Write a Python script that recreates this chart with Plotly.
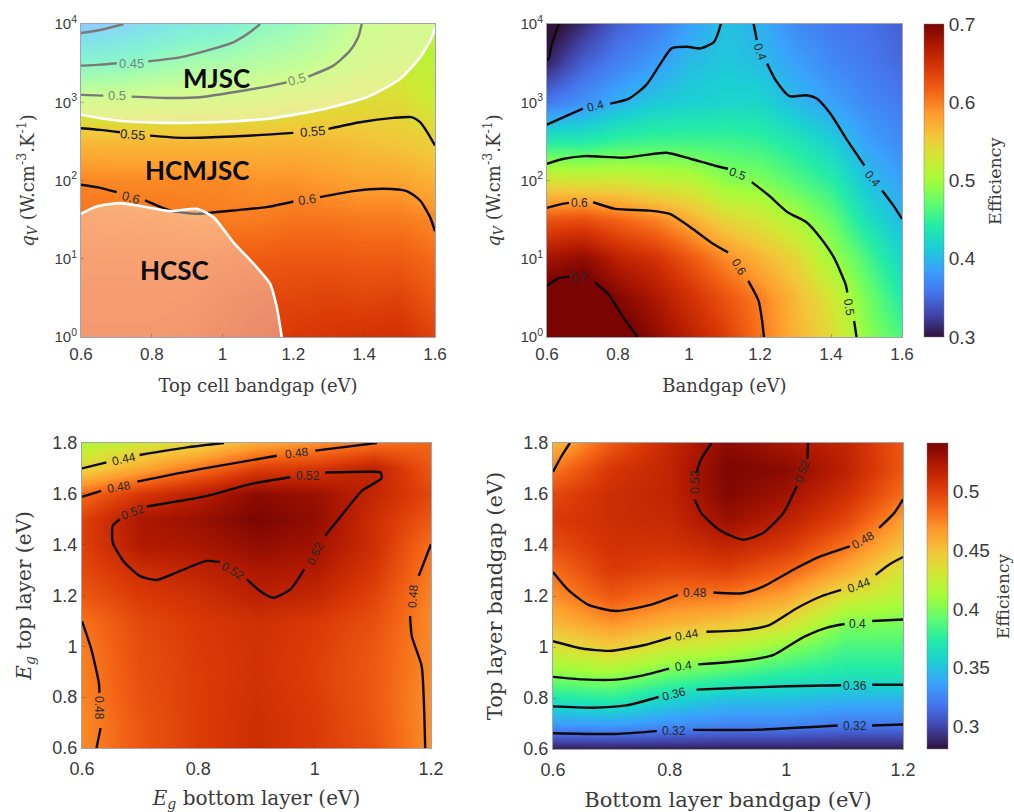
import numpy as np
import plotly.graph_objects as go

# ---------- panel grids (rows are bottom to top unless stated) ----------
a_x = [0.6, 0.7, 0.8, 0.9, 1.0, 1.1, 1.2, 1.3, 1.4, 1.5, 1.6]
top_logq = [4, 3.5, 3, 2.5, 2, 1.5, 1, 0.5, 0]
# columns by bandgap, each running from q=1e4 down to q=1
a_cols = [
    [.385, .445, .510, .565, .597, .608, .615, .620, .622],
    [.395, .450, .512, .565, .595, .607, .615, .620, .622],
    [.410, .460, .515, .565, .595, .606, .615, .620, .622],
    [.425, .470, .518, .565, .595, .604, .615, .620, .625],
    [.430, .475, .520, .565, .595, .602, .618, .627, .632],
    [.450, .483, .525, .565, .590, .602, .620, .632, .638],
    [.460, .490, .530, .567, .590, .606, .622, .634, .642],
    [.480, .500, .535, .565, .585, .606, .622, .636, .645],
    [.500, .515, .540, .560, .580, .603, .620, .634, .648],
    [.510, .520, .540, .555, .580, .603, .620, .636, .650],
    [.510, .515, .525, .548, .570, .595, .610, .622, .635],
]
b_cols = [
    [.290, .310, .360, .440, .535, .625, .680, .715, .725],
    [.315, .345, .375, .440, .530, .630, .690, .720, .735],
    [.345, .365, .395, .450, .530, .615, .665, .695, .715],
    [.360, .382, .410, .455, .520, .600, .650, .675, .690],
    [.385, .402, .415, .455, .515, .575, .625, .650, .665],
    [.405, .410, .420, .455, .490, .545, .595, .625, .640],
    [.395, .403, .420, .450, .485, .530, .570, .600, .605],
    [.370, .385, .400, .435, .465, .505, .545, .565, .570],
    [.360, .370, .385, .415, .445, .475, .500, .530, .540],
    [.355, .360, .370, .385, .405, .430, .460, .480, .490],
    [.345, .350, .360, .370, .385, .400, .420, .440, .460],
]
low_x = [0.6, 0.7, 0.8, 0.9, 1.0, 1.1, 1.2]
low_y = [0.6, 0.7, 0.8, 0.9, 1.0, 1.1, 1.2, 1.3, 1.4, 1.5, 1.6, 1.7, 1.8]
c_rows = [
    [.472, .491, .502, .510, .503, .493, .470],
    [.472, .491, .502, .510, .503, .491, .470],
    [.474, .493, .502, .509, .502, .490, .470],
    [.475, .494, .502, .508, .501, .490, .472],
    [.477, .495, .503, .508, .502, .491, .472],
    [.480, .497, .504, .509, .504, .494, .472],
    [.490, .503, .509, .518, .514, .499, .474],
    [.497, .510, .517, .524, .522, .505, .477],
    [.500, .522, .525, .533, .528, .510, .480],
    [.500, .524, .530, .540, .533, .510, .490],
    [.483, .505, .519, .535, .530, .515, .497],
    [.440, .460, .480, .500, .505, .517, .490],
    [.415, .430, .440, .460, .470, .480, .485],
]
d_cols = [
    [.285, .334, .371, .405, .433, .455, .470, .481, .495, .503, .497, .478, .455],
    [.285, .336, .376, .410, .445, .470, .490, .503, .508, .510, .510, .505, .490],
    [.285, .330, .360, .395, .428, .458, .480, .497, .508, .513, .516, .516, .514],
    [.285, .325, .350, .385, .420, .450, .477, .500, .516, .530, .538, .540, .535],
    [.285, .325, .350, .375, .403, .437, .463, .486, .505, .518, .528, .535, .525],
    [.285, .320, .345, .370, .385, .402, .433, .460, .481, .498, .510, .518, .515],
    [.285, .320, .345, .370, .385, .400, .418, .430, .450, .465, .482, .490, .490],
]

# ---------- panel A contour lines (x, log10 q); None = gap for a label ----------
a40_x = [.6, .654, .72]
a40_y = [3.885, 3.923, 4]
a45_x = [.6, .654, .701, None, .79, .88, .955, 1.03, 1.077, 1.106]
a45_y = [3.468, 3.481, 3.498, None, 3.523, 3.574, 3.66, 3.766, 3.894, 4]
a50_x = [.6, .663, None, .743, .842, .936, 1.03, 1.124, 1.181, None, 1.242, 1.313, 1.36, 1.383, 1.393]
a50_y = [3.094, 3.085, None, 3.072, 3.055, 3.064, 3.128, 3.2, 3.255, None, 3.328, 3.468, 3.66, 3.83, 4]
a55_x = [.6, .654, .71, None, .795, .889, 1.03, 1.2, None, 1.299, 1.388, 1.482, 1.534, 1.558, 1.581, 1.6]
a55_y = [2.668, 2.647, 2.617, None, 2.574, 2.545, 2.562, 2.609, None, 2.66, 2.745, 2.8, 2.809, 2.745, 2.596, 2.447]
a60_x = [.6, .654, .701, None, .781, .851, .927, 1.03, 1.124, 1.2, None, 1.275, 1.369, 1.454, 1.52, 1.558, 1.586, 1.6]
a60_y = [1.945, 1.906, 1.851, None, 1.745, 1.617, 1.574, 1.617, 1.66, 1.732, None, 1.787, 1.864, 1.894, 1.864, 1.745, 1.532, 1.353]
a_lab_text = ["0.45", "0.5", "0.5", "0.55", "0.55", "0.6", "0.6"]
a_lab_x = [.743, .703, 1.209, .746, 1.253, .74, 1.237]
a_lab_y = [3.498, 3.081, 3.285, 2.587, 2.63, 1.787, 1.757]
a_lab_ang = [0, 0, -15, 5, -5, 15, -8]
a_lab_col = ["#6f8a88", "#6f8a70", "#7f9070", "#222222", "#222222", "#333333", "#333333"]

# regions of panel A
mjsc_x = [.6, .7, .842, .974, 1.124, 1.266, 1.407, 1.501, 1.558, 1.591, 1.6]
mjsc_y = [2.84, 2.766, 2.736, 2.745, 2.787, 2.894, 3.064, 3.298, 3.574, 3.83, 3.957]
hcsc_x = [.6, .644, .71, .776, .851, .927, .974, 1.03, 1.096, 1.134, 1.153, 1.167]
hcsc_y = [1.574, 1.668, 1.711, 1.668, 1.609, 1.638, 1.532, 1.213, .894, .681, .383, 0]
region_text = ["MJSC", "HCMJSC", "HCSC"]
region_x = [.983, .928, .865]
region_y = [3.31, 2.13, .86]

# ---------- panel B ----------
b30_x = [.6, .605, .614, .634]
b30_y = [3.538, 3.56, 3.752, 4]
b40a_x = [.6, .658, .701, None, .778, .831, .879, .917, .951, .994, 1.033, 1.071, 1.09]
b40a_y = [2.714, 2.833, 2.919, None, 2.983, 3.047, 3.218, 3.474, 3.688, 3.709, 3.688, 3.774, 4]
b40b_x = [1.182, 1.191, None, 1.22, 1.244, 1.283, 1.331, 1.36, 1.398, 1.446, 1.494, None, 1.544, 1.576, 1.6]
b40b_y = [4, 3.795, None, 3.496, 3.282, 3.077, 3.09, 3.047, 2.855, 2.513, 2.192, None, 1.872, 1.679, 1.509]
b50_x = [.6, .648, .706, .812, .869, .937, 1.004, 1.071, 1.11, None, 1.177, 1.225, 1.278, 1.331, 1.369, 1.408, 1.441, 1.446, None, 1.465, 1.472]
b50_y = [2.214, 2.278, 2.312, 2.291, 2.321, 2.355, 2.278, 2.192, 2.15, None, 1.979, 1.808, 1.594, 1.466, 1.274, 1.017, .675, .568, None, .205, 0]
b60_x = [.6, .634, .662, None, .73, .792, .888, .946, 1.004, 1.062, 1.11, None, 1.167, 1.196, 1.206, 1.211]
b60_y = [1.65, 1.692, 1.714, None, 1.722, 1.637, 1.615, 1.573, 1.402, 1.209, 1.081, None, .718, .462, .205, 0]
b70_x = [.6, .634, .662, None, .735, .773, .812, .855]
b70_y = [.654, .752, .769, None, .697, .547, .269, 0]
b_lab_text = ["0.4", "0.4", "0.4", "0.5", "0.5", "0.6", "0.6", "0.7"]
b_lab_x = [.737, 1.201, 1.518, 1.138, 1.451, .691, 1.14, .691]
b_lab_y = [2.953, 3.645, 2.021, 2.077, .385, 1.714, .889, .748]
b_lab_ang = [-15, 70, 50, 20, 80, 0, 60, 0]

# ---------- panel C ----------
c44_x = [.6, .642, None, .699, .78, .844]
c44_y = [1.7, 1.724, None, 1.753, 1.783, 1.8]
c48a_x = [.6, .633, None, .695, .803, .935, None, 1.001, 1.107]
c48a_y = [1.588, 1.612, None, 1.648, 1.697, 1.75, None, 1.77, 1.8]
c52_x = [.711, .803, .837, .889, .958, None, 1.018, 1.09, 1.113, 1.115, 1.081, 1.055, 1.018, None, .982, .958, .929, .906, .883, None, .837, .814, .768, .728, .699, .671, .653, .653, .665]
c52_y = [1.55, 1.586, 1.605, 1.638, 1.665, None, 1.684, 1.687, 1.684, 1.661, 1.612, 1.54, 1.435, None, 1.303, 1.224, 1.191, 1.218, 1.264, None, 1.332, 1.336, 1.296, 1.261, 1.277, 1.336, 1.408, 1.474, 1.5]
c48b_x = [.6, .616, .629, .63, None, .632, .625]
c48b_y = [1.099, .988, .856, .817, None, .679, .6]
c48c_x = [1.2, 1.179, None, 1.164, 1.167, 1.184, 1.188, 1.19]
c48c_y = [1.402, 1.277, None, 1.119, 1.04, .922, .764, .6]
c_lab_text = ["0.44", "0.48", "0.48", "0.52", "0.52", "0.52", "0.52", "0.48", "0.48"]
c_lab_x = [.672, .664, .97, .688, .989, 1.0, .859, .629, 1.169]
c_lab_y = [1.737, 1.628, 1.759, 1.527, 1.671, 1.365, 1.297, .758, 1.198]
c_lab_ang = [-12, -10, -7, -20, 0, -65, 30, 90, -85]

# ---------- panel D ----------
d52_x = [.872, .854, .846, None, .843, .854, .884, .925, .96, .995, 1.018, None, 1.036, 1.037]
d52_y = [1.8, 1.737, 1.684, None, 1.579, 1.526, 1.461, 1.421, 1.447, 1.526, 1.631, None, 1.737, 1.8]
d48a_x = [.6, .615, .629]
d48a_y = [1.687, 1.75, 1.8]
d48b_x = [.6, .626, .661, .708, .767, .814, None, .875, .925, .96, 1.012, 1.059, 1.109, None, 1.159, 1.185, 1.2]
d48b_y = [1.294, 1.224, 1.165, 1.141, 1.165, 1.204, None, 1.214, 1.211, 1.237, 1.303, 1.356, 1.395, None, 1.467, 1.526, 1.579]
d44_x = [.6, .65, .697, .755, .802, None, .863, .925, .971, 1.018, 1.059, 1.094, None, 1.153, 1.176, 1.2]
d44_y = [1.023, .994, .985, 1.007, 1.038, None, 1.06, 1.066, 1.086, 1.152, 1.198, 1.224, None, 1.283, 1.323, 1.353]
d40_x = [.6, .65, .708, .755, .799, None, .849, .925, .977, 1.03, 1.071, 1.1, None, 1.147, 1.2]
d40_y = [.883, .873, .872, .889, .915, None, .932, .946, .968, 1.04, 1.077, 1.09, None, 1.102, 1.108]
d36_x = [.6, .667, .726, .781, None, .846, .913, 1.001, 1.094, None, 1.147, 1.2]
d36_y = [.767, .762, .771, .804, None, .833, .839, .846, .85, None, .852, .852]
d32_x = [.6, .708, .778, None, .84, .942, 1.088, None, 1.147, 1.2]
d32_y = [.662, .659, .67, None, .675, .675, .692, None, .692, .696]
d_lab_text = ["0.52", "0.52", "0.48", "0.48", "0.44", "0.44", "0.4", "0.4", "0.36", "0.36", "0.32", "0.32"]
d_lab_x = [.843, 1.027, .843, 1.132, .829, 1.125, .823, 1.122, .808, 1.118, .807, 1.118]
d_lab_y = [1.647, 1.691, 1.211, 1.421, 1.047, 1.244, .925, 1.09, .817, .848, .67, .689]
d_lab_ang = [-90, -70, 0, -30, -10, -20, -8, 0, -15, 0, 0, 0]

W, H = 1014, 812
SANS = "Liberation Sans, Arial, sans-serif"
SERIF = "DejaVu Serif, serif"
TXT = "#3a3a3a"


def log_list(v):
    return [None if k is None else 10 ** k for k in v]


def pad(xs, ys, z):
    """repeat the outer cells so the picture's edge falls on the outermost values"""
    xs = [2 * xs[0] - xs[1]] + list(xs) + [2 * xs[-1] - xs[-2]]
    ys = [2 * ys[0] - ys[1]] + list(ys) + [2 * ys[-1] - ys[-2]]
    return xs, ys, np.pad(np.array(z), 1, mode="edge")


fig = go.Figure()


def heat(xs, ys, z, ax, zmin, zmax, cbar=None, log=False):
    px, py, pz = pad(xs, ys, z)
    if log:
        py = log_list(py)
    fig.add_trace(go.Heatmap(x=px, y=py, z=pz, colorscale="Turbo", zmin=zmin, zmax=zmax,
                             zsmooth="best", xaxis="x" + ax, yaxis="y" + ax,
                             showscale=cbar is not None, colorbar=cbar, hoverinfo="skip"))


def lines(ax, pairs, log=False, width=2.4):
    for xs, ys in pairs:
        fig.add_trace(go.Scatter(x=xs, y=log_list(ys) if log else ys, mode="lines",
                                 line=dict(color="#0b0b0b", width=width, shape="spline", smoothing=0.6),
                                 xaxis="x" + ax, yaxis="y" + ax, showlegend=False, hoverinfo="skip"))


def labels(ax, text, xs, ys, ang, size=12, col=None):
    for i, (t, x, y, a) in enumerate(zip(text, xs, ys, ang)):
        extra = dict(textangle=a) if a else {}
        fig.add_annotation(text=t, x=x, y=y, xref="x" + ax, yref="y" + ax, showarrow=False,
                           font=dict(family=SANS, size=size, color=col[i] if col else "#1c2a2a"), **extra)


def cbar(x, ticks, ticktext, y, ln, thick):
    return dict(x=x / W, xanchor="left", xpad=0, ypad=0, y=y, yanchor="middle", len=ln, lenmode="fraction",
                thickness=thick, thicknessmode="pixels",
                tickvals=ticks, ticktext=ticktext, ticks="", outlinewidth=1, outlinecolor="rgba(120,120,130,0.45)",
                tickfont=dict(family=SANS, size=19, color=TXT))


# A
a_z = np.array(a_cols).T[::-1]
heat(a_x, top_logq[::-1], a_z, "", .3, .7, log=True)
lines("", [(a40_x, a40_y), (a45_x, a45_y), (a50_x, a50_y), (a55_x, a55_y), (a60_x, a60_y)], log=True)
fig.add_trace(go.Scatter(x=mjsc_x + [1.6, .6], y=log_list(mjsc_y + [4, 4]), mode="none", fill="toself",
                         fillcolor="rgba(255,255,255,0.45)", showlegend=False, hoverinfo="skip"))
fig.add_trace(go.Scatter(x=hcsc_x + [.6], y=log_list(hcsc_y + [0]), mode="none", fill="toself",
                         fillcolor="rgba(255,255,255,0.40)", showlegend=False, hoverinfo="skip"))
for xs, ys in [(mjsc_x, mjsc_y), (hcsc_x, hcsc_y)]:
    fig.add_trace(go.Scatter(x=xs, y=log_list(ys), mode="lines",
                             line=dict(color="white", width=2.6, shape="spline", smoothing=0.6),
                             showlegend=False, hoverinfo="skip"))
labels("", a_lab_text, a_lab_x, a_lab_y, a_lab_ang, size=13, col=a_lab_col)
for t, x, y in zip(region_text, region_x, region_y):
    fig.add_annotation(text="<b>%s</b>" % t, x=x, y=y, xref="x", yref="y", showarrow=False,
                       font=dict(family="Lato, Open Sans, sans-serif", size=26, color="#0a0a0a"))

# B
b_z = np.array(b_cols).T[::-1]
heat(a_x, top_logq[::-1], b_z, "2", .3, .7, log=True,
     cbar=cbar(924, [.3, .4, .5, .6, .7], ["0.3", "0.4", "0.5", "0.6", "0.7"], 1 - (24 + 337) / 2 / H, 313 / H, 20))
lines("2", [(b30_x, b30_y), (b40a_x, b40a_y), (b40b_x, b40b_y), (b50_x, b50_y), (b60_x, b60_y), (b70_x, b70_y)], log=True)
labels("2", b_lab_text, b_lab_x, b_lab_y, b_lab_ang)

# C
heat(low_x, low_y, c_rows, "3", .281, .541)
lines("3", [(c44_x, c44_y), (c48a_x, c48a_y), (c52_x, c52_y), (c48b_x, c48b_y), (c48c_x, c48c_y)])
labels("3", c_lab_text, c_lab_x, c_lab_y, c_lab_ang)

# D
d_z = np.array(d_cols).T
heat(low_x, low_y, d_z, "4", .281, .541,
     cbar=cbar(927, [.3, .35, .4, .45, .5], ["0.3", "0.35", "0.4", "0.45", "0.5"], 1 - (443 + 749) / 2 / H, 306 / H, 21))
lines("4", [(d52_x, d52_y), (d48a_x, d48a_y), (d48b_x, d48b_y), (d44_x, d44_y), (d40_x, d40_y), (d36_x, d36_y), (d32_x, d32_y)])
labels("4", d_lab_text, d_lab_x, d_lab_y, d_lab_ang)

# colourbar captions
for px, py, fs in [(995, 181, 17.5), (1003, 597, 17)]:
    fig.add_annotation(text="Efficiency", x=px / W, y=1 - py / H, xref="paper", yref="paper", textangle=-90,
                       xanchor="center", yanchor="middle",
                       showarrow=False, font=dict(family=SERIF, size=fs, color=TXT))


def xax(l, r, title, anchor, rng, vals, text, size, tsize, stand):
    return dict(domain=[l / W, r / W], anchor=anchor, range=rng, tickvals=vals, ticktext=text, ticks="inside",
                ticklen=3, tickcolor="rgba(60,60,60,0.35)", mirror=True, showline=True, linewidth=1,
                linecolor="rgba(120,125,140,0.7)", showgrid=False, zeroline=False, automargin=False,
                tickfont=dict(family=SANS, size=size, color=TXT), ticklabelstandoff=stand,
                title=dict(text=title, font=dict(family=SERIF, size=tsize, color=TXT)))


def yax(b, t, title, anchor, rng, vals, text, size, tsize, log=False):
    d = dict(domain=[1 - b / H, 1 - t / H], anchor=anchor, range=rng, tickvals=vals, ticktext=text, ticks="inside",
             ticklen=3, tickcolor="rgba(60,60,60,0.35)", mirror=True, showline=True, linewidth=1,
             linecolor="rgba(120,125,140,0.7)", showgrid=False, zeroline=False, automargin=False,
             tickfont=dict(family=SANS, size=size, color=TXT),
             title=dict(text=title, font=dict(family=SERIF, size=tsize, color=TXT)))
    if log:
        d["type"] = "log"
    return d


top_ticks = [.6, .8, 1, 1.2, 1.4, 1.6]
top_text = ["0.6", "0.8", "1", "1.2", "1.4", "1.6"]
q_ticks = [1, 10, 100, 1000, 10000]
q_text = ["10<sup>%d</sup>" % k for k in range(5)]
qt = "<i>q<sub>V</sub></i> (W.cm<sup>-3</sup>.K<sup>-1</sup>)"
lx = [.6, .8, 1, 1.2]
lxt = ["0.6", "0.8", "1", "1.2"]
ly = [.6, .8, 1, 1.2, 1.4, 1.6, 1.8]
lyt = ["0.6", "0.8", "1", "1.2", "1.4", "1.6", "1.8"]

fig.update_layout(
    width=W, height=H, margin=dict(l=0, r=0, t=0, b=0, autoexpand=False), paper_bgcolor="white", plot_bgcolor="white", showlegend=False,
    xaxis=xax(81, 435, "Top cell bandgap (eV)", "y", [.6, 1.6], top_ticks, top_text, 17, 18, 2),
    yaxis=yax(337, 24, qt, "x", [0, 4], q_ticks, q_text, 15, 18, log=True),
    xaxis2=xax(547, 902, "Bandgap (eV)", "y2", [.6, 1.6], top_ticks, top_text, 17, 18, 2),
    yaxis2=yax(337, 24, qt, "x2", [0, 4], q_ticks, q_text, 15, 18, log=True),
    xaxis3=xax(82, 431, "<i>E<sub>g</sub></i> bottom layer (eV)", "y3", [.6, 1.2], lx, lxt, 18, 20, 4),
    yaxis3=yax(748, 443, "<i>E<sub>g</sub></i> top layer (eV)", "x3", [.6, 1.8], ly, lyt, 18, 20),
    xaxis4=xax(553, 903, "Bottom layer bandgap (eV)", "y4", [.6, 1.2], lx, lxt, 18, 21, 4),
    yaxis4=yax(749, 443, "Top layer bandgap (eV)", "x4", [.6, 1.8], ly, lyt, 18, 21),
)
for a in ["xaxis", "xaxis2", "xaxis3", "xaxis4", "yaxis", "yaxis2", "yaxis3", "yaxis4"]:
    fig.layout[a].layer = "above traces"

fig.write_html("out.html", config=dict(displayModeBar=False),
               post_script="document.body.style.margin='0';document.body.style.overflow='hidden';")
